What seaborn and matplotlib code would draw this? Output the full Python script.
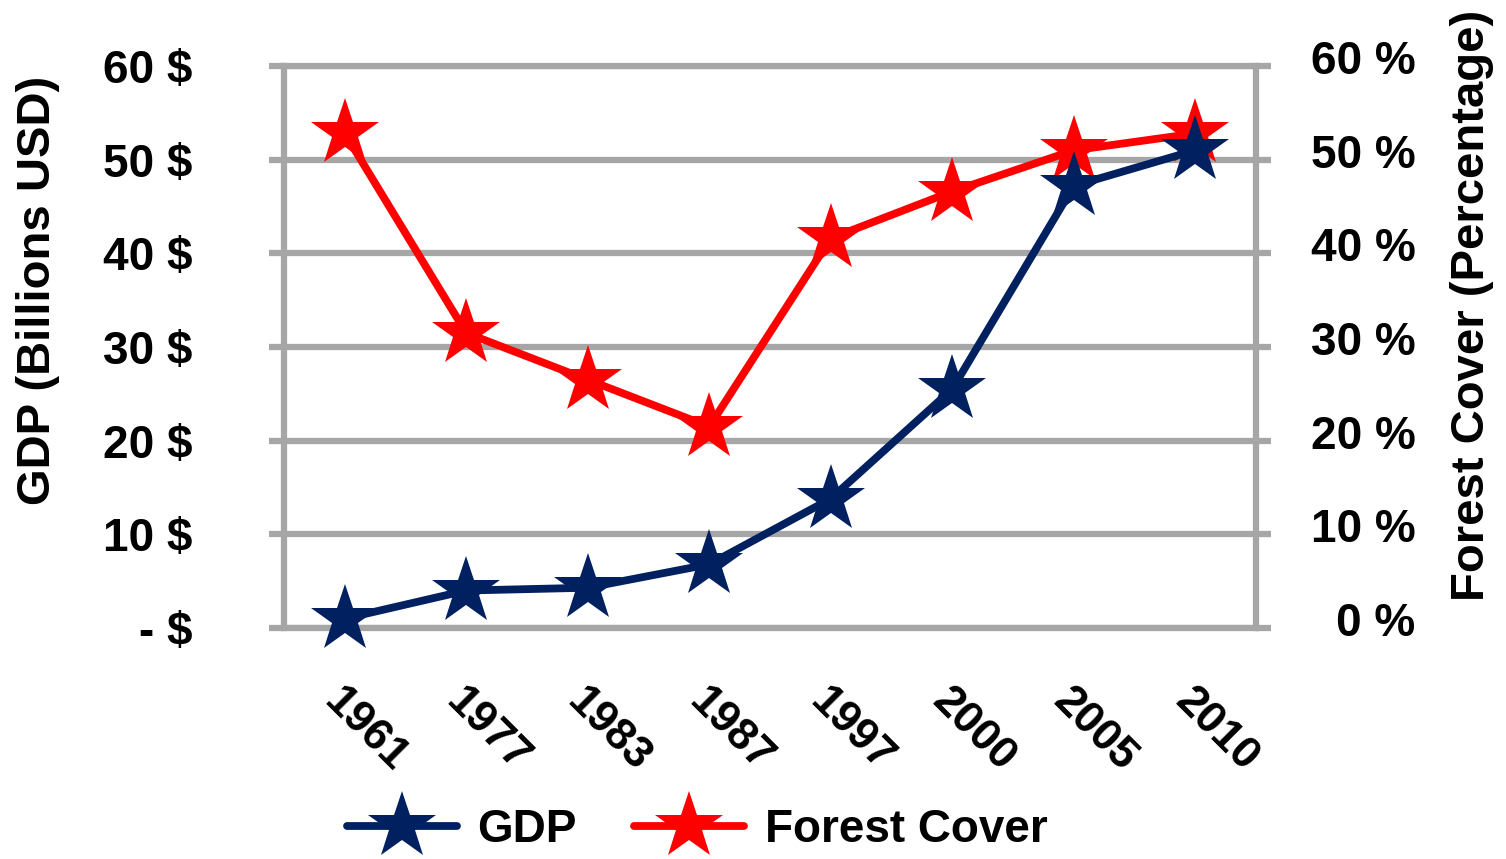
import numpy as np
import pandas as pd
import matplotlib
matplotlib.use("Agg")
import matplotlib.pyplot as plt
import seaborn as sns
from matplotlib.transforms import ScaledTranslation

# ---- data ----
years = ["1961", "1977", "1983", "1987", "1997", "2000", "2005", "2010"]
gdp = [1.0, 4.0, 4.3, 6.8, 13.8, 25.5, 47.2, 51.0]          # billions USD
forest = [52.8, 31.5, 26.5, 21.5, 41.6, 46.6, 51.0, 52.8]   # percent
y_ticks = [0, 10, 20, 30, 40, 50, 60]
left_labels = ["- $", "10 $", "20 $", "30 $", "40 $", "50 $", "60 $"]
right_labels = ["0 %", "10 %", "20 %", "30 %", "40 %", "50 %", "60 %"]

sns.set_style("white")
plt.rcParams["font.family"] = ["Liberation Sans", "DejaVu Sans"]
plt.rcParams["font.weight"] = "bold"
plt.rcParams["text.color"] = "black"
plt.rcParams["axes.labelcolor"] = "black"
plt.rcParams["xtick.color"] = "black"
plt.rcParams["ytick.color"] = "black"

GRAY = "#A6A6A6"
NAVY = "#002060"
RED = "#FF0000"
FS = 33

W, H = 1506, 859
fig = plt.figure(figsize=(W / 100, H / 100), dpi=100)
fig.patch.set_facecolor("white")

ax = fig.add_axes([284 / W, 1 - 628 / H, (1256 - 284) / W, (628 - 66) / H])
ax2 = ax.twinx()
# ax (GDP) drawn on top of ax2 (forest + grid)
ax.set_zorder(2)
ax2.set_zorder(1)
ax.patch.set_visible(False)

df = pd.DataFrame({"Year": years, "GDP": gdp, "Forest Cover": forest})

sns.lineplot(data=df, x="Year", y="Forest Cover", ax=ax2, color=RED, linewidth=5.6,
             marker="*", markersize=51, markeredgewidth=0, sort=False,
             clip_on=False, legend=False, zorder=3)
sns.lineplot(data=df, x="Year", y="GDP", ax=ax, color=NAVY, linewidth=5.6,
             marker="*", markersize=51, markeredgewidth=0, sort=False,
             clip_on=False, legend=False, zorder=3)

for a in (ax, ax2):
    a.set_ylim(0, 60)
    a.set_xlim(-0.5, len(years) - 0.5)
    a.set_xlabel("")
    a.set_ylabel("")

# grid and frame on the lower axes
ax2.set_yticks(y_ticks)
ax2.yaxis.grid(True, color=GRAY, linewidth=4.5)
ax2.xaxis.grid(False)
for s in ax2.spines.values():
    s.set_color(GRAY)
    s.set_linewidth(4.5)
for s in ax.spines.values():
    s.set_visible(False)

# left tick labels (GDP)
ax.set_yticks(y_ticks)
ax.set_yticklabels(left_labels, fontsize=FS, fontweight="bold")
ax.tick_params(axis="y", which="both", left=True, length=11, width=4.5,
               color=GRAY, labelcolor="black", pad=55)
# right tick labels (forest)
ax2.set_yticklabels(right_labels, fontsize=FS, fontweight="bold")
ax2.tick_params(axis="y", which="both", right=True, length=11, width=4.5,
                color=GRAY, labelcolor="black", pad=104)
up = ScaledTranslation(0, 9 / 100, fig.dpi_scale_trans)
for t in ax2.get_yticklabels():
    t.set_horizontalalignment("right")
    t.set_transform(t.get_transform() + up)

# x tick labels
ax.set_xticks(range(len(years)))
ax.set_xticklabels(years, fontsize=FS - 1, fontweight="bold", rotation=-45,
                   ha="center")
ax.tick_params(axis="x", length=0, pad=38, labelcolor="black")
offset = ScaledTranslation(21 / 100, 0, fig.dpi_scale_trans)
for t in ax.get_xticklabels():
    t.set_transform(t.get_transform() + offset)

# axis titles
fig.text(38 / W, 1 - 290 / H, "GDP (Billions USD)", rotation=90, ha="center",
         va="center", fontsize=34, fontweight="bold", color="black")
fig.text(1472 / W, 1 - 305 / H, "Forest Cover (Percentage)", rotation=90,
         ha="center", va="center", fontsize=34, fontweight="bold", color="black")

# legend
h1 = ax.get_lines()[0]
h2 = ax2.get_lines()[0]
leg = fig.legend([h1, h2], ["GDP", "Forest Cover"], loc="center",
                 bbox_to_anchor=(697 / W, 1 - 830 / H), ncol=2, frameon=False,
                 fontsize=FS, handlelength=2.4, handletextpad=0.45,
                 columnspacing=1.25, numpoints=1, borderaxespad=0, borderpad=0)
for t in leg.get_texts():
    t.set_color("black")

fig.savefig("out.png", dpi=100, facecolor="white")
